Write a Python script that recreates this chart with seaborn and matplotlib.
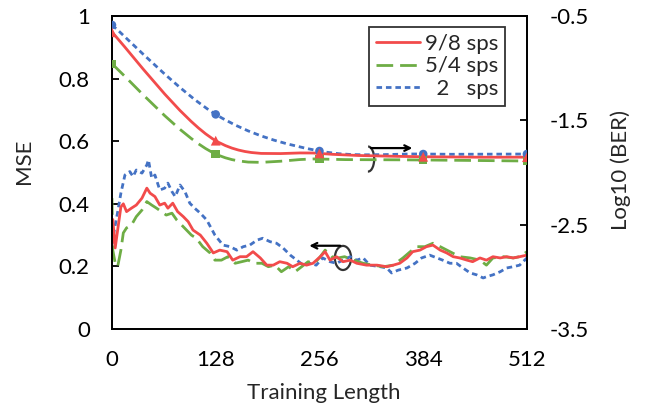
import numpy as np
import matplotlib.pyplot as plt
import seaborn as sns
from matplotlib.path import Path
from matplotlib.patches import PathPatch, Arc
from matplotlib.lines import Line2D

# Log10(BER) at the training lengths (right axis)
ber_x = [0, 128, 256, 384, 512]
ber_98 = [-0.656, -1.695, -1.817, -1.849, -1.853]
ber_54 = [-0.96, -1.823, -1.871, -1.88, -1.89]
ber_2 = [-0.586, -1.443, -1.794, -1.823, -1.823]

# MSE traces (left axis)
mse_98_x = [0, 1, 4, 7, 11, 14, 18, 24, 30, 37, 43, 47, 53, 59, 65, 69, 75, 81, 88, 94,
            100, 109, 117, 125, 133, 142, 149, 158, 166, 174, 183, 191, 199, 207, 216,
            223, 232, 240, 248, 257, 263, 269, 277, 285, 294, 302, 314, 327, 339, 347,
            355, 364, 371, 380, 388, 396, 405, 413, 421, 429, 438, 445, 454, 462, 470,
            479, 487, 495, 503, 512]
mse_98 = [0.274, 0.35, 0.259, 0.316, 0.39, 0.40, 0.375, 0.386, 0.396, 0.418, 0.45, 0.434,
          0.423, 0.396, 0.402, 0.386, 0.402, 0.375, 0.359, 0.343, 0.316, 0.30, 0.274, 0.243,
          0.252, 0.247, 0.22, 0.231, 0.231, 0.247, 0.227, 0.204, 0.204, 0.215, 0.21, 0.199,
          0.21, 0.204, 0.21, 0.231, 0.247, 0.22, 0.231, 0.215, 0.22, 0.21, 0.204, 0.204,
          0.199, 0.204, 0.21, 0.227, 0.247, 0.252, 0.263, 0.268, 0.252, 0.243, 0.231, 0.227,
          0.22, 0.215, 0.227, 0.22, 0.231, 0.227, 0.231, 0.227, 0.231, 0.236]

mse_54_x = [0, 1, 4, 7, 11, 14, 18, 24, 30, 37, 43, 49, 55, 61, 67, 74, 80, 86, 92, 98,
            104, 112, 121, 127, 135, 143, 152, 160, 168, 176, 185, 193, 201, 209, 218, 226,
            234, 242, 250, 257, 263, 271, 279, 287, 298, 310, 322, 335, 347, 359, 368, 376,
            386, 396, 405, 417, 429, 442, 454, 462, 470, 483, 495, 503, 512]
mse_54 = [0.418, 0.252, 0.21, 0.199, 0.252, 0.307, 0.323, 0.332, 0.359, 0.38, 0.407, 0.396,
          0.386, 0.375, 0.364, 0.37, 0.348, 0.332, 0.316, 0.30, 0.29, 0.263, 0.243, 0.22,
          0.22, 0.231, 0.21, 0.215, 0.22, 0.21, 0.21, 0.199, 0.204, 0.183, 0.199, 0.183,
          0.199, 0.215, 0.21, 0.231, 0.252, 0.231, 0.227, 0.231, 0.22, 0.21, 0.204, 0.199,
          0.204, 0.227, 0.247, 0.263, 0.263, 0.274, 0.263, 0.247, 0.231, 0.227, 0.22, 0.204,
          0.227, 0.231, 0.227, 0.231, 0.247]

mse_2_x = [0, 1, 6, 11, 16, 22, 26, 30, 37, 43, 45, 49, 53, 59, 65, 69, 74, 78, 84, 90,
           96, 102, 109, 117, 127, 137, 146, 154, 162, 170, 179, 186, 195, 203, 211, 220,
           228, 236, 244, 252, 260, 269, 277, 285, 294, 302, 310, 318, 331, 339, 345, 353,
           364, 374, 382, 392, 401, 408, 417, 425, 433, 442, 450, 458, 462, 470, 479, 487,
           495, 503, 512]
mse_2 = [0.27, 0.29, 0.359, 0.434, 0.492, 0.503, 0.487, 0.508, 0.498, 0.524, 0.54, 0.482,
         0.492, 0.444, 0.45, 0.466, 0.439, 0.423, 0.46, 0.439, 0.402, 0.386, 0.37, 0.348,
         0.30, 0.268, 0.263, 0.252, 0.263, 0.268, 0.284, 0.29, 0.279, 0.274, 0.259, 0.236,
         0.22, 0.204, 0.21, 0.204, 0.227, 0.215, 0.21, 0.22, 0.231, 0.22, 0.227, 0.204,
         0.199, 0.195, 0.179, 0.188, 0.195, 0.21, 0.227, 0.236, 0.227, 0.22, 0.21, 0.21,
         0.195, 0.179, 0.173, 0.163, 0.167, 0.173, 0.183, 0.195, 0.199, 0.204, 0.227]

x_ticks = [0, 128, 256, 384, 512]
mse_ticks = [0, 0.2, 0.4, 0.6, 0.8, 1]
mse_labels = ['0', '0.2', '0.4', '0.6', '0.8', '1']
ber_ticks = [-3.5, -2.5, -1.5, -0.5]
ber_labels = ['-3.5', '-2.5', '-1.5', '-0.5']
names = ['9/8 sps', '5/4 sps', '  2   sps']

red = '#F24B4B'
green = '#6EAD45'
blue = '#4472C4'
ls_red = '-'
ls_green = (0, (6, 2.5))
ls_blue = (0, (2, 1.4))


def smooth_path(xs, ys):
    # Excel-like smoothed line as cubic Bezier segments
    pts = np.column_stack([xs, ys]).astype(float)
    p = np.vstack([pts[0], pts, pts[-1]])
    verts = [pts[0]]
    codes = [Path.MOVETO]
    for i in range(1, len(p) - 2):
        c1 = p[i] + (p[i + 1] - p[i - 1]) / 6
        c2 = p[i + 1] - (p[i + 2] - p[i]) / 6
        verts += [c1, c2, p[i + 1]]
        codes += [Path.CURVE4] * 3
    return Path(verts, codes)


sns.set_style('white')
plt.rcParams['font.family'] = ['Lato', 'DejaVu Sans']
fs = 16

fig = plt.figure(figsize=(6.48, 4.09), dpi=100)
ax = fig.add_axes([0.1728, 0.1956, 0.6404, 0.7653])
ax2 = ax.twinx()

# MSE traces
sns.lineplot(x=mse_2_x, y=mse_2, ax=ax, color=blue, lw=2, linestyle=ls_blue)
sns.lineplot(x=mse_54_x, y=mse_54, ax=ax, color=green, lw=2, linestyle=ls_green)
sns.lineplot(x=mse_98_x, y=mse_98, ax=ax, color=red, lw=2, linestyle=ls_red)

# BER curves
for ys, c, ls in [(ber_2, blue, ls_blue), (ber_54, green, ls_green), (ber_98, red, ls_red)]:
    ax2.add_patch(PathPatch(smooth_path(ber_x, ys), fill=False, edgecolor=c, lw=2,
                            linestyle=ls, transform=ax2.transData))
sns.scatterplot(x=ber_x, y=ber_2, ax=ax2, color=blue, marker='o', s=38, edgecolor='none', zorder=5)
sns.scatterplot(x=ber_x, y=ber_54, ax=ax2, color=green, marker='s', s=38, edgecolor='none', zorder=5)
sns.scatterplot(x=ber_x, y=ber_98, ax=ax2, color=red, marker='^', s=50, edgecolor='none', zorder=6)

ax.set_xlim(0, 512)
ax.set_ylim(0, 1)
ax2.set_ylim(-3.5, -0.5)
ax.set_xticks(x_ticks)
ax.set_xticklabels([str(v) for v in x_ticks])
ax.set_yticks(mse_ticks)
ax.set_yticklabels(mse_labels)
ax2.set_yticks(ber_ticks)
ax2.set_yticklabels(ber_labels)

for a in (ax, ax2):
    for s in a.spines.values():
        s.set_color('black')
        s.set_linewidth(1.3)
    a.tick_params(direction='in', length=5, width=1.3, labelsize=fs, pad=16, colors='black')
ax.tick_params(axis='x', pad=15)
ax.tick_params(axis='y', left=True)
ax2.tick_params(axis='y', right=True)

ax.set_ylabel('MSE', fontsize=fs)
ax.yaxis.set_label_coords(-0.188, 0.537)
ax2.set_ylabel('Log10 (BER)', fontsize=fs)
ax2.yaxis.set_label_coords(1.2, 0.508)
ax.set_xlabel('Training Length', fontsize=fs)
ax.xaxis.set_label_coords(0.511, -0.173)

# rotation markers
ax.add_patch(Arc((316, 0.543), 15, 0.08, theta1=190, theta2=450, color='#333333', lw=1.6))
ax.annotate('', xy=(374, 0.578), xytext=(316, 0.578),
            arrowprops=dict(arrowstyle='->', color='black', lw=1.6))
ax.add_patch(Arc((285, 0.227), 20, 0.077, theta1=90, theta2=430, color='#333333', lw=1.6))
ax.annotate('', xy=(240, 0.266), xytext=(285, 0.266),
            arrowprops=dict(arrowstyle='->', color='black', lw=1.6))

handles = [Line2D([], [], color=red, lw=2, linestyle=ls_red),
           Line2D([], [], color=green, lw=2, linestyle=ls_green),
           Line2D([], [], color=blue, lw=2, linestyle=ls_blue)]
leg = ax2.legend(handles, names, loc='upper right', bbox_to_anchor=(0.947, 0.965),
                 fontsize=fs, frameon=True, fancybox=False, edgecolor='black',
                 handlelength=2.0, handletextpad=0.2, labelspacing=0.12,
                 borderpad=0.3, borderaxespad=0)
leg.get_frame().set_linewidth(1.3)

fig.savefig('out.png', dpi=100)
